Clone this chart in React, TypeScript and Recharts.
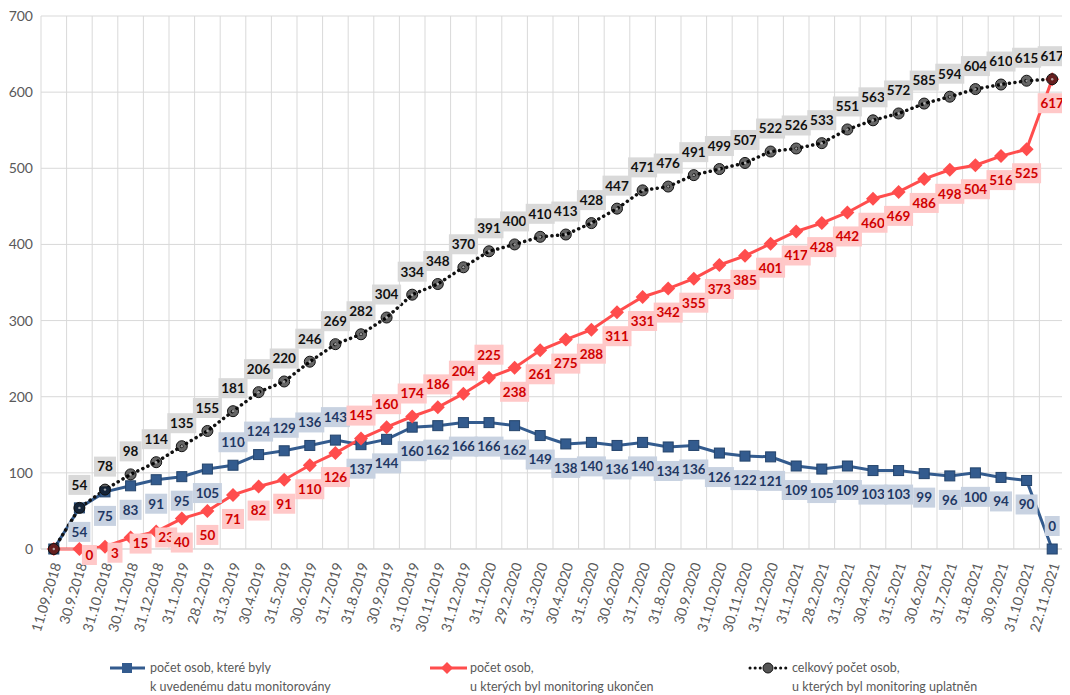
import React from 'react';
import { ComposedChart, Line, XAxis, YAxis, CartesianGrid, LabelList, Legend } from 'recharts';

// category dates (x axis)
const dates = [
  '11.09.2018', '30.9.2018', '31.10.2018', '30.11.2018', '31.12.2018',
  '31.1.2019', '28.2.2019', '31.3.2019', '30.4.2019', '31.5.2019',
  '30.6.2019', '31.7.2019', '31.8.2019', '30.9.2019', '31.10.2019',
  '30.11.2019', '31.12.2019', '31.1.2020', '29.2.2020', '31.3.2020',
  '30.4.2020', '31.5.2020', '30.6.2020', '31.7.2020', '31.8.2020',
  '30.9.2020', '31.10.2020', '30.11.2020', '31.12.2020', '31.1.2021',
  '28.2.2021', '31.3.2021', '30.4.2021', '31.5.2021', '30.6.2021',
  '31.7.2021', '31.8.2021', '30.9.2021', '31.10.2021', '22.11.2021',
];

// počet osob, které byly k uvedenému datu monitorovány
const monitored = [
  0, 54, 75, 83, 91, 95, 105, 110, 124, 129,
  136, 143, 137, 144, 160, 162, 166, 166, 162, 149,
  138, 140, 136, 140, 134, 136, 126, 122, 121, 109,
  105, 109, 103, 103, 99, 96, 100, 94, 90, 0,
];

// počet osob, u kterých byl monitoring ukončen
const ended = [
  0, 0, 3, 15, 23, 40, 50, 71, 82, 91,
  110, 126, 145, 160, 174, 186, 204, 225, 238, 261,
  275, 288, 311, 331, 342, 355, 373, 385, 401, 417,
  428, 442, 460, 469, 486, 498, 504, 516, 525, 617,
];

// celkový počet osob, u kterých byl monitoring uplatněn
const total = [
  0, 54, 78, 98, 114, 135, 155, 181, 206, 220,
  246, 269, 282, 304, 334, 348, 370, 391, 400, 410,
  413, 428, 447, 471, 476, 491, 499, 507, 522, 526,
  533, 551, 563, 572, 585, 594, 604, 610, 615, 617,
];

const yTicks = [0, 100, 200, 300, 400, 500, 600, 700];

const data = dates.map((d, i) => ({ date: d, monitored: monitored[i], ended: ended[i], total: total[i] }));

const BLUE = '#335b8e';
const RED = '#ff4d4d';
const FONT = 'Lato, "Open Sans", sans-serif';

type Place = 'above' | 'below' | 'right';

// where each series puts its value box
const bluePlace = (i: number): Place => ((i >= 7 && i <= 11) || i === dates.length - 1 ? 'above' : 'below');
const redPlace = (i: number): Place => (i >= 1 && i <= 4 ? 'right' : i >= 12 && i <= 17 ? 'above' : 'below');
const totalPlace = (): Place => 'above';

function makeLabel(place: (i: number) => Place, bg: string, color: string) {
  return (p: any) => {
    const { x, y, value, index } = p;
    if (index === 0) return null;
    const s = String(value);
    const w = s.length * 7 + 8;
    const h = 20;
    const pl = place(index);
    let cx = x;
    let cy = y;
    if (pl === 'above') cy = y - 23;
    if (pl === 'below') cy = y + 24;
    if (pl === 'right') { cx = x + 10; cy = y + 6; }
    return (
      <g key={`lbl-${index}`}>
        <rect x={cx - w / 2} y={cy - h / 2} width={w} height={h} fill={bg} />
        <text x={cx} y={cy} dy='0.36em' textAnchor='middle' fontFamily={FONT} fontWeight={700} fontSize={13.5} fill={color}>
          {s}
        </text>
      </g>
    );
  };
}

const SquareDot = (p: any) => (
  <rect key={`sq-${p.index}`} x={p.cx - 5} y={p.cy - 5} width={10} height={10} fill={BLUE} stroke='#24446c' strokeWidth={1} />
);

const DiamondDot = (p: any) => (
  <path key={`dm-${p.index}`} d={`M${p.cx},${p.cy - 7} L${p.cx + 7},${p.cy} L${p.cx},${p.cy + 7} L${p.cx - 7},${p.cy} Z`} fill={RED} />
);

const CircleDot = (p: any) => (
  <g key={`ci-${p.index}`}>
    <circle cx={p.cx} cy={p.cy} r={5.5} fill='#000' fillOpacity={0.6} stroke='#111' strokeWidth={1} />
    <circle cx={p.cx} cy={p.cy} r={1.2} fill='#ddd' fillOpacity={0.7} />
  </g>
);

const DateTick = (p: any) => {
  const { x, y, payload } = p;
  return (
    <text
      x={x + 3}
      y={y + 6}
      transform={`rotate(-73, ${x + 3}, ${y + 6})`}
      textAnchor='end'
      dy='0.35em'
      fontFamily={FONT}
      fontSize={14}
      fill='#595959'>
      {payload.value}
    </text>
  );
};

function LegendBox() {
  const txt = { fontFamily: FONT, fontSize: 12.5, fill: '#595959' };
  return (
    <svg width={1062} height={46}>
      <g>
        <line x1={102} x2={137} y1={19} y2={19} stroke={BLUE} strokeWidth={3} />
        <rect x={114} y={14} width={10} height={10} fill={BLUE} />
        <text x={142} y={19} dy='0.35em' {...txt}>počet osob, které byly</text>
        <text x={142} y={38} dy='0.35em' {...txt}>k uvedenému datu monitorovány</text>
      </g>
      <g>
        <line x1={422} x2={459} y1={19} y2={19} stroke={RED} strokeWidth={3} />
        <path d='M439,13 L445,19 L439,25 L433,19 Z' fill={RED} />
        <text x={462} y={19} dy='0.35em' {...txt}>počet osob,</text>
        <text x={462} y={38} dy='0.35em' {...txt}>u kterých byl monitoring ukončen</text>
      </g>
      <g>
        <line x1={742} x2={780} y1={19} y2={19} stroke='#111' strokeWidth={3} strokeDasharray='0.1 5' strokeLinecap='round' />
        <circle cx={760} cy={19} r={5} fill='#555' stroke='#111' />
        <text x={784} y={19} dy='0.35em' {...txt}>celkový počet osob,</text>
        <text x={784} y={38} dy='0.35em' {...txt}>u kterých byl monitoring uplatněn</text>
      </g>
    </svg>
  );
}

export default function App() {
  const bands = ({ offset }: any) =>
    dates.map((_, i) => offset.left + (i * offset.width) / dates.length).concat(offset.left + offset.width);

  return (
    <ComposedChart width={1062} height={687} data={data} margin={{ top: 8, right: 5, bottom: 0, left: 0 }}>
      <CartesianGrid stroke='#d9d9d9' strokeWidth={1} verticalCoordinatesGenerator={bands} />
      <XAxis dataKey='date' scale='band' interval={0} height={100} tick={<DateTick />} tickLine={false} axisLine={{ stroke: '#d9d9d9' }} />
      <YAxis
        width={33}
        domain={[0, 700]}
        ticks={yTicks}
        axisLine={false}
        tickLine={false}
        tick={{ fontFamily: FONT, fontSize: 14, fill: '#595959' }}
      />
      <Legend verticalAlign='bottom' height={46} content={() => <LegendBox />} wrapperStyle={{ left: 0, bottom: 0 }} />
      <Line dataKey='monitored' stroke={BLUE} strokeWidth={3} dot={SquareDot} isAnimationActive={false}>
        <LabelList dataKey='monitored' content={makeLabel(bluePlace, '#c8d2e1', '#1f3864')} />
      </Line>
      <Line dataKey='ended' stroke={RED} strokeWidth={3} dot={DiamondDot} isAnimationActive={false}>
        <LabelList dataKey='ended' content={makeLabel(redPlace, '#ffc8c8', '#d00000')} />
      </Line>
      <Line
        dataKey='total'
        stroke='#111'
        strokeWidth={3.5}
        strokeDasharray='0.1 5.5'
        strokeLinecap='round'
        dot={CircleDot}
        isAnimationActive={false}>
        <LabelList dataKey='total' content={makeLabel(totalPlace, '#d9d9d9', '#111')} />
      </Line>
    </ComposedChart>
  );
}
